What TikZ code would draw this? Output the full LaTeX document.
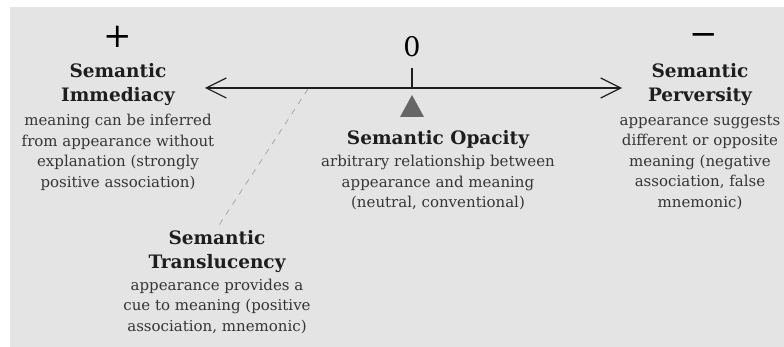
\documentclass[tikz,border=0pt]{standalone}
\usepackage{fontspec}
\setmainfont{DejaVu Serif}
\usetikzlibrary{arrows.meta,positioning,calc}

\definecolor{bggray}{HTML}{E4E4E4}
\definecolor{inkgray}{HTML}{1E1E1E}
\definecolor{markgray}{HTML}{666666}
\definecolor{dashgray}{HTML}{A8A8A8}

\begin{document}
\begin{tikzpicture}[x=1pt,y=-1pt,
  title/.style={font=\fontsize{18.5}{24}\selectfont\bfseries, text=inkgray, align=center, inner sep=2pt},
  body/.style={font=\fontsize{15}{20.5}\selectfont, text=inkgray!90, align=center, inner sep=0pt},
  sign/.style={font=\fontsize{34}{34}\selectfont, text=black, inner sep=0pt}]
\useasboundingbox (0,0) rectangle (784,347);
% Background panel
\fill[bggray] (10,7) rectangle (784,347);
% Scale line
\coordinate (lft) at (205,88);
\coordinate (rgt) at (622,88);
\coordinate (mid) at (412,88);
\coordinate (trans) at (308,89);
\draw[{Straight Barb[length=20pt,width=20pt,line width=1.2pt]}-{Straight Barb[length=20pt,width=20pt,line width=1.2pt]}, line width=1.2pt, inkgray] (lft) -- (rgt);
\draw[line width=1.2pt, inkgray] (mid) -- ++(0,-20);
\fill[markgray] ($(mid)+(0,7)$) -- ++(12,22) -- ++(-24,0) -- cycle;
% Signs
\node[sign] (plus) at (118,37) {+};
\node[sign, font=\fontsize{27}{27}\selectfont] (zero) at (412,47) {0};
\node[sign] (minus) at (704,40) {\textminus};
% Positions on the scale
\node[title] (imm) at (118,85) {Semantic\\Immediacy};
\node[body] (immtxt) at (118,152.5) {meaning can be inferred\\from appearance without\\explanation (strongly\\positive association)};
\node[title] (opa) at (438,140) {Semantic Opacity};
\node[body] (opatxt) at (438,182.5) {arbitrary relationship between\\appearance and meaning\\(neutral, conventional)};
\node[title] (tra) at (217,251.5) {Semantic\\Translucency};
\node[body] (tratxt) at (217,306) {appearance provides a\\cue to meaning (positive\\association, mnemonic)};
\node[title] (per) at (700,85) {Semantic\\Perversity};
\node[body] (pertxt) at (700,162.5) {appearance suggests\\different or opposite\\meaning (negative\\association, false\\mnemonic)};
% Translucency lies off the line
\draw[dashgray, dash pattern=on 6pt off 6pt, line width=0.8pt] (trans) -- (tra.north);
\end{tikzpicture}
\end{document}
